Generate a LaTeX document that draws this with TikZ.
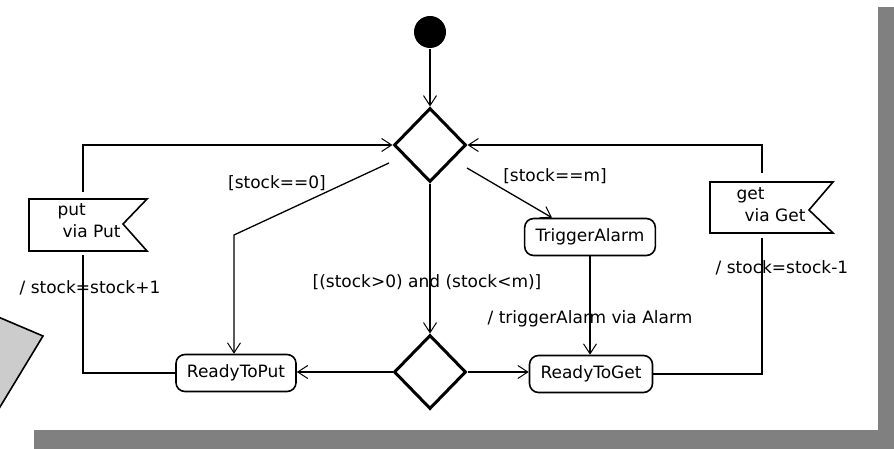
\documentclass[tikz,border=0pt]{standalone}
\usepackage{fontspec}
\setmainfont{DejaVu Sans}
\usetikzlibrary{arrows.meta,shapes.geometric}

\begin{document}
\begin{tikzpicture}[x=1pt, y=-1pt, line width=1.3pt,
  >={Straight Barb[length=10pt,width=13pt,line width=1pt]},
  font=\fontsize{17}{22}\selectfont,
  state/.style={draw, line width=1.6pt, rounded corners=9pt, minimum height=37pt,
    inner xsep=11pt, inner ysep=0pt},
  decision/.style={draw, diamond, line width=3pt, minimum width=72pt,
    minimum height=74pt, inner sep=0pt},
  flagbox/.style={draw, line width=1.6pt, line join=miter},
  lbl/.style={inner sep=0pt}]

\useasboundingbox (0,0) rectangle (894,449);

% drop shadow of the frame
\fill[gray] (878,7) rectangle (894,449);
\fill[gray] (34,430) rectangle (894,449);

% note sticking in from the left
\begin{scope}
  \clip (0,0) rectangle (894,449);
  \filldraw[fill=black!20, line width=1.6pt] (-30,305) -- (43,336) -- (-20,440) -- (-40,440) -- cycle;
\end{scope}

% states
\node[circle, fill, minimum size=32pt, inner sep=0pt] (init) at (430,32) {};
\node[decision] (choice) at (430,145) {};
\node[decision] (merge) at (430,372) {};
\node[state] (alarm) at (590,237) {TriggerAlarm};
\node[state] (toput) at (236,373) {ReadyToPut};
\node[state] (toget) at (591,374) {ReadyToGet};

% signal receipts
\draw[flagbox] (29,199) -- (147,199) -- (123,224) -- (147,251) -- (29,251) -- cycle;
\node[lbl, align=left] (putsig) at (89,221) {put\\\hspace*{5pt}via Put};
\draw[flagbox] (710,182) -- (833,182) -- (809,210) -- (833,233) -- (710,233) -- cycle;
\node[lbl, align=left] (getsig) at (771,205) {get\\\hspace*{8pt}via Get};

\coordinate (putup) at (83,192);
\coordinate (putdn) at (83,255);
\coordinate (getup) at (762,173);
\coordinate (getdn) at (762,238);
\coordinate (g0) at (389,163);
\coordinate (g0bend) at (234,235);
\coordinate (gm) at (467,168);

% transitions
\draw[->] (init) -- (choice);
\draw[->] (putup) |- (choice.west);
\draw[->] (getup) |- (choice.east);
\draw[->] (g0) -- (g0bend) -- (g0bend |- toput.north);
\draw[->] (gm) -- ([xshift=-38pt]alarm.north);
\draw[->] (choice) -- (merge);
\draw[->] (merge.west) -- (merge.west -| toput.east);
\draw[->] (merge.east) -- (merge.east -| toget.west);
\draw[->] (alarm.south) -- (alarm.south |- toget.north);
\draw (toput.west) -| (putdn);
\draw (toget.east) -| (getdn);

% guards and effects
\node[lbl] (l0) at (277,183) {[stock==0]};
\node[lbl] (lm) at (555,176) {[stock==m]};
\node[lbl] (lmid) at (427,282) {[(stock>0) and (stock<m)]};
\node[lbl] (lalarm) at (590,319) {/ triggerAlarm via Alarm};
\node[lbl] (lput) at (90,288) {/ stock=stock+1};
\node[lbl] (lget) at (782,268) {/ stock=stock-1};

\end{tikzpicture}
\end{document}
